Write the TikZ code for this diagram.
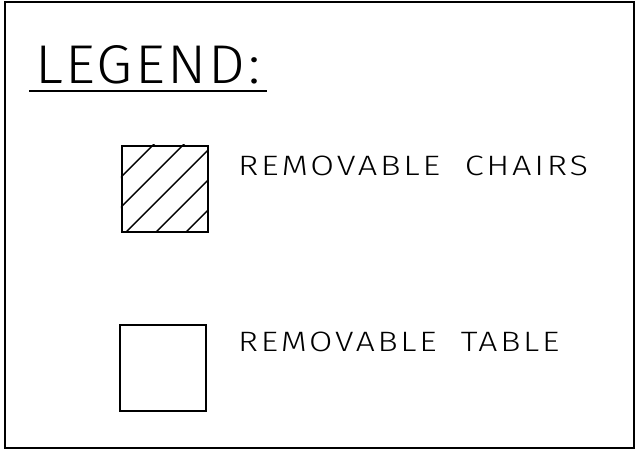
\documentclass[tikz,border=0pt]{standalone}
\usepackage{fontspec,graphicx}
\setmainfont{Fira Sans Light}
\newfontfamily\cadfont[LetterSpace=8]{Fira Sans Light}
\newfontfamily\cadtitle[LetterSpace=4]{Fira Sans Light}
\usetikzlibrary{positioning,calc}
\tikzset{frame/.style={draw=black,line width=2pt},
  sym/.style={draw=black,line width=2pt,minimum size=86pt,inner sep=0pt},
  hatch/.style={line width=1.4pt},
  lbl/.style={inner sep=0pt,anchor=base west,font=\cadfont}}
\newcommand{\fittext}[3]{\resizebox{#1}{#2}{#3}}

\begin{document}
\begin{tikzpicture}[x=1pt,y=-1pt]
\useasboundingbox (0,0) rectangle (638,451);
\draw[frame] (5,2) rectangle (634,448);
% title
\node[lbl,font=\cadtitle] (ttl) at (35,83.3){\fittext{225pt}{38pt}{LEGEND:}};
\draw[line width=1.5pt] ([xshift=-6pt,yshift=-7.7pt]ttl.base west)--([xshift=7pt,yshift=-7.7pt]ttl.base east);
% symbols
\node[sym] (chr) at (164.9,188.7){};
\node[sym] (tbl) at (162.7,368.3){};
\begin{scope}
\clip (chr.north west) rectangle (chr.south east);
\foreach \d in {32.6,62.6,92.6,122.6,152.6}
  \draw[hatch] ($(chr.north west)+(\d+60,-60)$)--($(chr.north west)+(\d-160,160)$);
\end{scope}
\node[sym] at (chr){};
% labels
\node[lbl] (chrl) at (238,175){\fittext{350pt}{19.5pt}{REMOVABLE~~CHAIRS}};
\node[lbl] (tbll) at (238,351){\fittext{321pt}{19.5pt}{REMOVABLE~~TABLE}};
\end{tikzpicture}
\end{document}
